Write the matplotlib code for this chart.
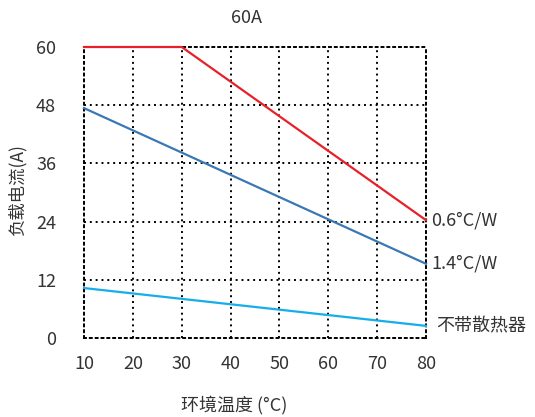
import matplotlib
matplotlib.use("Agg")
import matplotlib.pyplot as plt

plt.rcParams['font.family'] = ['Noto Sans CJK SC', 'DejaVu Sans']

title = "60A"
x_ticks = [10, 20, 30, 40, 50, 60, 70, 80]
y_ticks = [0, 12, 24, 36, 48, 60]

x_06 = [10, 30, 80]
y_06 = [60, 60, 24.3]
x_14 = [10, 80]
y_14 = [47.4, 15.3]
x_none = [10, 80]
y_none = [10.3, 2.5]

labels = ["0.6°C/W", "1.4°C/W", "不带散热器"]

txt = "#333333"
fig = plt.figure(figsize=(5.35, 4.17), dpi=100)
ax = fig.add_axes([84/535, 1-338/417, (426-84)/535, (338-47)/417])
ax.set_xlim(10, 80)
ax.set_ylim(0, 60)
ax.set_xticks(x_ticks)
ax.set_yticks(y_ticks)
ax.tick_params(length=0, labelsize=13, colors=txt, pad=12)
ax.tick_params(axis='y', pad=20)
for lab in ax.get_xticklabels():
    lab.set_x(lab.get_position()[0])
ax.grid(True, color='black', linestyle=(0, (1, 2)), linewidth=1.4)
for s in ax.spines.values():
    s.set_linestyle((0, (1, 2)))
    s.set_linewidth(1.4)
    s.set_color('black')

ax.plot(x_06, y_06, color='#e8202a', lw=1.6, clip_on=False, zorder=3)
ax.plot(x_14, y_14, color='#3a78b5', lw=1.6, clip_on=False, zorder=3)
ax.plot(x_none, y_none, color='#15aee8', lw=1.6, clip_on=False, zorder=3)

ax.text(81.0, y_06[-1], labels[0], fontsize=13, color=txt, va='center', ha='left')
ax.text(81.0, y_14[-1], labels[1], fontsize=13, color=txt, va='center', ha='left')
ax.text(82.0, 2.4, labels[2], fontsize=13, color=txt, va='center', ha='left')

fig.text(247/535, 1-18/417, title, fontsize=13, color=txt, ha='center', va='center')
fig.text(234/535, 1-405/417, "环境温度 (°C)", fontsize=13, color=txt, ha='center', va='center')
fig.text(17/535, 1-190/417, "负载电流(A)", fontsize=12.5, color=txt, ha='center', va='center', rotation=90)

fig.savefig("out.png", dpi=100)
